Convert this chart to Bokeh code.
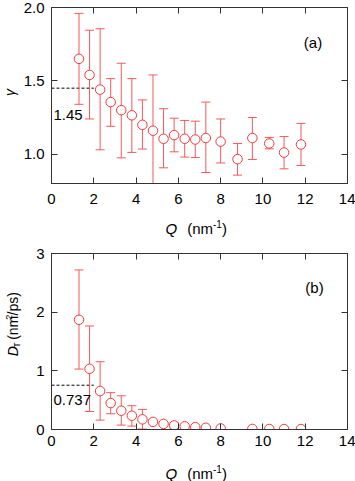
import math
import numpy as np
from bokeh.plotting import figure
from bokeh.models import ColumnDataSource, Range1d, FixedTicker, LinearAxis, Label, CustomJSTickFormatter, NumeralTickFormatter
from bokeh.layouts import column, row
from bokeh.embed import file_html
from bokeh.resources import INLINE

nan = float("nan")

# ---------------- data (panel a) ----------------
Q_a = [1.3, 1.8, 2.3, 2.8, 3.3, 3.8, 4.3, 4.8, 5.3, 5.8, 6.3, 6.8, 7.3, 8.0, 8.8, 9.5, 10.3, 11.0, 11.8]
gamma = [1.65, 1.54, 1.44, 1.355, 1.30, 1.265, 1.20, 1.16, 1.105, 1.13, 1.105, 1.10, 1.11, 1.086, 0.966, 1.11, 1.073, 1.011, 1.066]
gamma_upper = [1.96, 1.845, 1.855, 1.515, 1.62, 1.515, 1.37, 1.54, 1.31, 1.245, 1.23, 1.225, 1.355, 1.24, 1.073, 1.25, 1.114, 1.12, 1.21]
gamma_lower = [1.34, 1.24, 1.03, 1.19, 0.975, 1.012, 1.035, 0.78, 0.907, 1.016, 0.98, 0.977, 0.875, 0.94, 0.857, 0.964, 1.036, 0.90, 0.923]

# ---------------- data (panel b) ----------------
Q_b = [1.3, 1.8, 2.3, 2.8, 3.3, 3.8, 4.3, 4.8, 5.3, 5.8, 6.3, 6.8, 7.3, 8.0, 9.5, 10.3, 11.0, 11.8]
D_T = [1.87, 1.035, 0.655, 0.45, 0.32, 0.235, 0.173, 0.13, 0.095, 0.07, 0.055, 0.04, 0.03, 0.018, 0.01, 0.009, 0.008, 0.008]
D_upper = [2.72, 1.765, 1.155, 0.628, 0.575, 0.405, 0.343, nan, nan, 0.12, nan, nan, nan, nan, nan, nan, nan, nan]
D_lower = [1.03, 0.307, 0.16, 0.268, 0.075, 0.058, 0.008, nan, nan, 0.02, nan, nan, nan, nan, nan, nan, nan, nan]

# ---------------- ticks / annotations ----------------
x_ticks = [0, 2, 4, 6, 8, 10, 12, 14]
gamma_ticks = [1.0, 1.5, 2.0]
D_ticks = [0, 1, 2, 3]
ref_x = [0, 2]
gamma_ref = 1.45
gamma_ref_label = "1.45"
D_ref = 0.755
D_ref_label = "0.737"

FONT = "Liberation Sans"
FRAME = "#333333"
RED = "#f03c3c"
BAR = "#f25a5a"
FS = "15px"


def make_panel(y_lo, y_hi, y_ticks, fmt, b_left, b_top, b_bottom, standoff):
    p = figure(frame_width=296, frame_height=176,
               x_range=Range1d(0, 14), y_range=Range1d(y_lo, y_hi),
               output_backend="svg", toolbar_location=None,
               min_border_left=b_left, min_border_right=8,
               min_border_top=b_top, min_border_bottom=b_bottom)
    p.xgrid.visible = False
    p.ygrid.visible = False
    p.outline_line_color = FRAME
    p.outline_line_width = 1
    p.background_fill_color = "white"
    p.border_fill_color = "white"
    p.xaxis.ticker = FixedTicker(ticks=x_ticks)
    p.yaxis.ticker = FixedTicker(ticks=y_ticks)
    p.yaxis.formatter = NumeralTickFormatter(format=fmt)
    for ax in (p.xaxis[0], p.yaxis[0]):
        ax.major_tick_in = 6
        ax.major_tick_out = 0
        ax.minor_tick_in = 0
        ax.minor_tick_out = 0
        ax.axis_line_color = FRAME
        ax.major_tick_line_color = FRAME
        ax.major_label_text_font = FONT
        ax.major_label_text_font_size = FS
        ax.major_label_text_color = "black"
    p.xaxis.major_label_standoff = standoff
    p.yaxis.major_label_standoff = 7
    empty = CustomJSTickFormatter(code="return ''")
    top = LinearAxis(ticker=FixedTicker(ticks=x_ticks), formatter=empty,
                     major_tick_in=6, major_tick_out=0, minor_tick_in=0, minor_tick_out=0,
                     major_label_standoff=0, major_label_text_font_size="1px",
                     axis_line_color=FRAME, major_tick_line_color=FRAME)
    right = LinearAxis(ticker=FixedTicker(ticks=y_ticks), formatter=empty,
                       major_tick_in=6, major_tick_out=0, minor_tick_in=0, minor_tick_out=0,
                       major_label_standoff=0, major_label_text_font_size="1px",
                       axis_line_color=FRAME, major_tick_line_color=FRAME)
    p.add_layout(top, "above")
    p.add_layout(right, "right")
    return p


def text_box(w, h):
    t = figure(width=w, height=h, x_range=Range1d(0, w), y_range=Range1d(0, h),
               output_backend="svg", toolbar_location=None,
               x_axis_type=None, y_axis_type=None,
               min_border_left=0, min_border_right=0, min_border_top=0, min_border_bottom=0)
    t.outline_line_color = None
    t.background_fill_color = "white"
    t.border_fill_color = "white"
    t.grid.visible = False
    return t


def add_series(p, q, y, up, lo):
    src = ColumnDataSource(dict(q=np.array(q, float), y=np.array(y, float),
                                up=np.array(up, float), lo=np.array(lo, float)))
    p.segment(x0="q", y0="lo", x1="q", y1="up", source=src, line_color=BAR, line_width=1)
    p.scatter(x="q", y="up", marker="dash", size=9, line_color=BAR, line_width=1, source=src)
    p.scatter(x="q", y="lo", marker="dash", size=9, line_color=BAR, line_width=1, source=src)
    p.scatter(x="q", y="y", marker="circle", size=9.5, fill_color="white",
              line_color=RED, line_width=1, source=src)


def lab(p, text, x, y, xo=0, yo=0, size=FS, style="normal", align="left", base="middle", angle=0):
    p.add_layout(Label(x=x, y=y, x_offset=xo, y_offset=yo, text=text, text_font=FONT,
                       text_font_size=size, text_font_style=style, text_color="black",
                       text_align=align, text_baseline=base, angle=angle))


def x_title(t, yc):
    lab(t, "Q", 165, yc, style="italic")
    lab(t, "(nm", 186.7, yc)
    lab(t, "-1", 212.5, yc + 5, size="10px")
    lab(t, ")", 221.4, yc)


# ---------------- panel (a) ----------------
p1 = make_panel(0.8, 2.0, gamma_ticks, "0.0", 31, 7, 28, 10)
p1.line(x=ref_x, y=[gamma_ref, gamma_ref], line_color="black", line_width=1, line_dash="3 2")
add_series(p1, Q_a, gamma, gamma_upper, gamma_lower)
lab(p1, gamma_ref_label, 0, gamma_ref, xo=2, yo=-27)
lab(p1, "(a)", 12.37, 2.0, yo=-34.5, align="center")

yt1 = text_box(20, 211)
lab(yt1, "γ", 9, 211 - 102, size="14px", style="italic", align="center", angle=math.pi / 2)
xt1 = text_box(355, 34)
x_title(xt1, 17)

# ---------------- panel (b) ----------------
p2 = make_panel(0, 3, D_ticks, "0", 27, 8, 26, 6)
p2.line(x=ref_x, y=[D_ref, D_ref], line_color="black", line_width=1, line_dash="3 2")
add_series(p2, Q_b, D_T, D_upper, D_lower)
lab(p2, D_ref_label, 0, D_ref, xo=2, yo=-15)
lab(p2, "(b)", 12.44, 3.0, yo=-33.5, align="center")

yt2 = text_box(24, 210)
A = math.pi / 2
lab(yt2, "D", 12.5, 87.5, size="14px", style="italic", angle=A)
lab(yt2, "T", 16.7, 97.6, size="9px", angle=A)
lab(yt2, "(nm", 12.5, 107.0, size="14px", angle=A)
lab(yt2, "2", 8.3, 131.1, size="9px", angle=A)
lab(yt2, "/ps)", 12.5, 136.1, size="14px", angle=A)
xt2 = text_box(355, 26)
x_title(xt2, 8)

layout = column(row(yt1, p1), xt1, row(yt2, p2), xt2)
open("out.html", "w").write(file_html(layout, INLINE))
